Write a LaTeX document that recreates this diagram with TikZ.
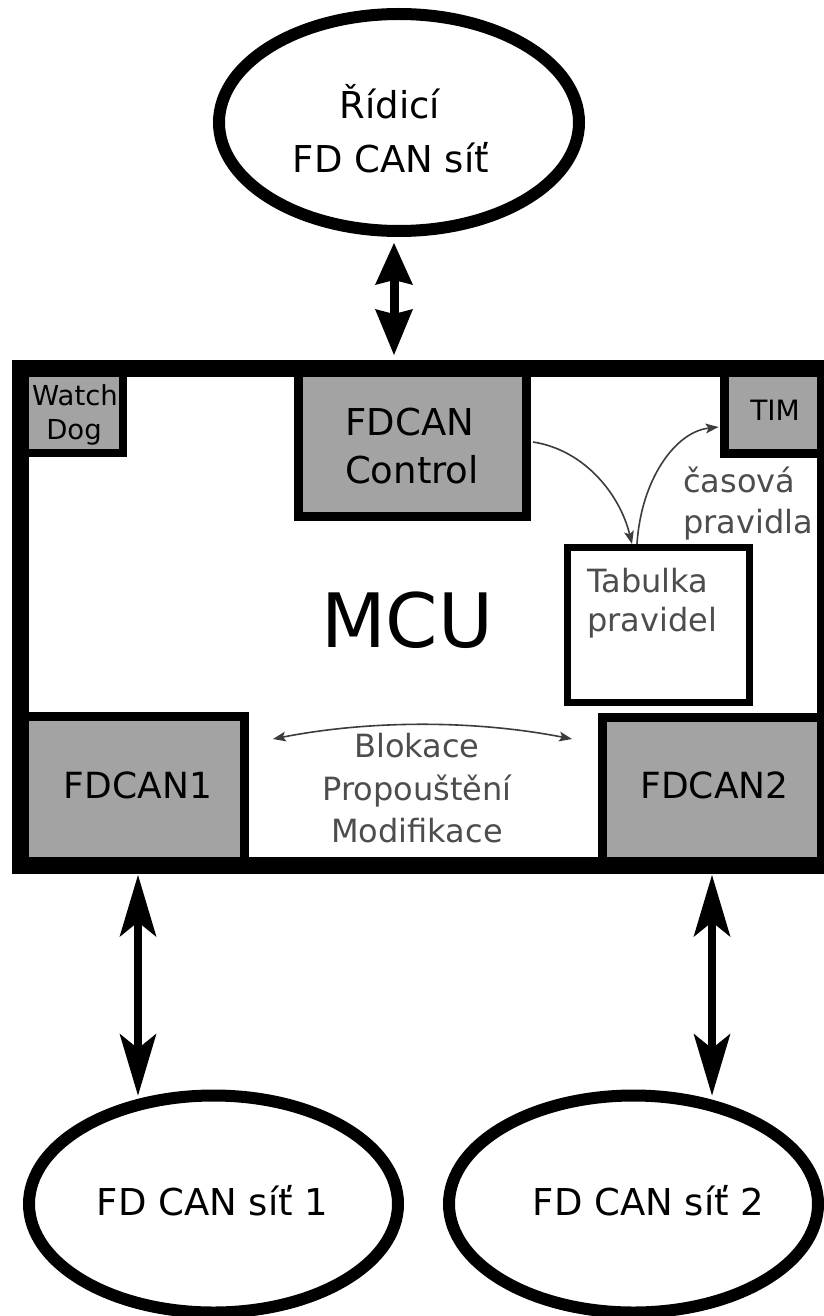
\documentclass[tikz,border=0pt]{standalone}
\usepackage{fontspec}
\setmainfont{DejaVu Sans}
\usetikzlibrary{arrows.meta,shapes.geometric,calc}
\definecolor{boxgray}{RGB}{163,163,163}
\definecolor{labelgray}{RGB}{77,77,77}
\definecolor{linkgray}{RGB}{60,60,60}
\newcommand{\fsz}[1]{\fontsize{#1}{#1}\selectfont}

\begin{document}
\begin{tikzpicture}[x=1pt,y=-1pt,
  net/.style={ellipse, draw, line width=12pt, fill=white, inner sep=0pt, outer sep=0pt},
  unit/.style={rectangle, draw, fill=boxgray, line width=9pt, inner sep=0pt, outer sep=0pt},
  txt/.style={anchor=base, inner sep=0pt},
  txtleft/.style={anchor=base west, inner sep=0pt},
  bigarrow/.style={line width=8pt,
    {Stealth[length=62pt,width=37pt,inset=15pt,line width=0pt]}-{Stealth[length=62pt,width=37pt,inset=15pt,line width=0pt]}},
  toparrow/.style={line width=9pt,
    {Stealth[length=42pt,width=38pt,inset=5pt,line width=0pt]}-{Stealth[length=46pt,width=38pt,inset=5pt,line width=0pt]}},
  linkarrow/.style={draw=linkgray, line width=1.6pt,
    -{Stealth[length=13pt,width=10pt,inset=3pt,line width=0pt]}},
  linkboth/.style={draw=linkgray, line width=1.6pt,
    {Stealth[length=13pt,width=10pt,inset=3pt,line width=0pt]}-{Stealth[length=13pt,width=10pt,inset=3pt,line width=0pt]}}
]
\useasboundingbox (0,0) rectangle (823,1316);

% networks
\node[net, minimum width=360pt, minimum height=217pt] (ctl) at (399,122.5) {};
\node[net, minimum width=369pt, minimum height=217pt] (net1) at (213.5,1204) {};
\node[net, minimum width=369pt, minimum height=217pt] (net2) at (633.5,1204) {};

% MCU body
\node[rectangle, fill=white, inner sep=0pt, outer sep=0pt, minimum width=805pt, minimum height=497pt] (mcu) at (423,617) {};

% peripherals inside the MCU
\node[unit, line width=8pt, minimum width=107pt, minimum height=89pt] (wdg) at (69.5,408.5) {};
\node[unit, minimum width=228pt, minimum height=152pt] (ctrl) at (412.5,440.5) {};
\node[unit, minimum width=105pt, minimum height=89pt] (tim) at (777,409) {};
\node[unit, minimum width=228pt, minimum height=153pt] (fd1) at (130.5,793) {};
\node[unit, minimum width=227pt, minimum height=152pt] (fd2) at (716,793.5) {};
\node[rectangle, draw, fill=white, line width=7pt, inner sep=0pt, outer sep=0pt, minimum width=182pt, minimum height=155pt] (tab) at (658.5,625) {};

% MCU outline on top
\draw[line width=17pt] (mcu.north west) rectangle (mcu.south east);

% labels
\node[txt, font=\fsz{37}] (ctlA) at (390,119) {Řídicí};
\node[txt, font=\fsz{37}] (ctlB) at (391,172) {FD CAN síť};
\node[txt, font=\fsz{37}] (n1t) at (212.5,1215) {FD CAN síť 1};
\node[txt, font=\fsz{37}] (n2t) at (648.5,1215) {FD CAN síť 2};
\node[txt, font=\fsz{27.5}] (wdgA) at (75,405) {Watch};
\node[txt, font=\fsz{27.5}] (wdgB) at (74,439) {Dog};
\node[txt, font=\fsz{37}] (ctrlA) at (410,435) {FDCAN};
\node[txt, font=\fsz{37}] (ctrlB) at (412,483) {Control};
\node[txt, font=\fsz{28}] (timt) at (775,420) {TIM};
\node[txtleft, font=\fsz{32}, text=labelgray] (trA) at (683,492) {časová};
\node[txtleft, font=\fsz{32}, text=labelgray] (trB) at (683,533) {pravidla};
\node[txtleft, font=\fsz{32}, text=labelgray] (tabA) at (587,592) {Tabulka};
\node[txtleft, font=\fsz{32}, text=labelgray] (tabB) at (587,631) {pravidel};
\node[txt, font=\fsz{75}] (mcut) at (407,647) {MCU};
\node[txt, font=\fsz{32}, text=labelgray] (actA) at (417,757) {Blokace};
\node[txt, font=\fsz{32}, text=labelgray] (actB) at (417,800) {Propouštění};
\node[txt, font=\fsz{32}, text=labelgray] (actC) at (417,842) {Modifikace};
\node[txt, font=\fsz{36}] (fd1t) at (138,798) {FDCAN1};
\node[txt, font=\fsz{36}] (fd2t) at (714.5,798) {FDCAN2};

% bus connections
\coordinate (cA) at ($(ctl.south)+(-5,12)$);
\coordinate (cB) at (cA |- mcu.north);
\draw[toparrow] (cA) -- ($(cB)+(0,-13.5)$);

\coordinate (f1A) at ($(fd1.south)+(7.5,5.5)$);
\coordinate (f1B) at (f1A |- net1.north);
\draw[bigarrow] (f1A) -- (f1B);

\coordinate (f2A) at ($(fd2.south)+(-4,5.5)$);
\coordinate (f2B) at (f2A |- net2.north);
\draw[bigarrow] (f2A) -- (f2B);

% internal data flow
\coordinate (c1s) at ($(ctrl.east)+(6.5,1.5)$);
\coordinate (c1e) at ($(tab.north west)+(64.5,-3.5)$);
\draw[linkarrow] (c1s) .. controls (585,450) and (620,495) .. (c1e);

\coordinate (c2s) at ($(tab.north west)+(69.5,-3.5)$);
\coordinate (c2e) at ($(tim.west)+(-6,18)$);
\draw[linkarrow] (c2s) .. controls (641,480) and (675,432) .. (c2e);

\coordinate (bl) at (273,739);
\coordinate (br) at (572,739);
\draw[linkboth] (bl) .. controls (370,720) and (475,720) .. (br);
\end{tikzpicture}
\end{document}
